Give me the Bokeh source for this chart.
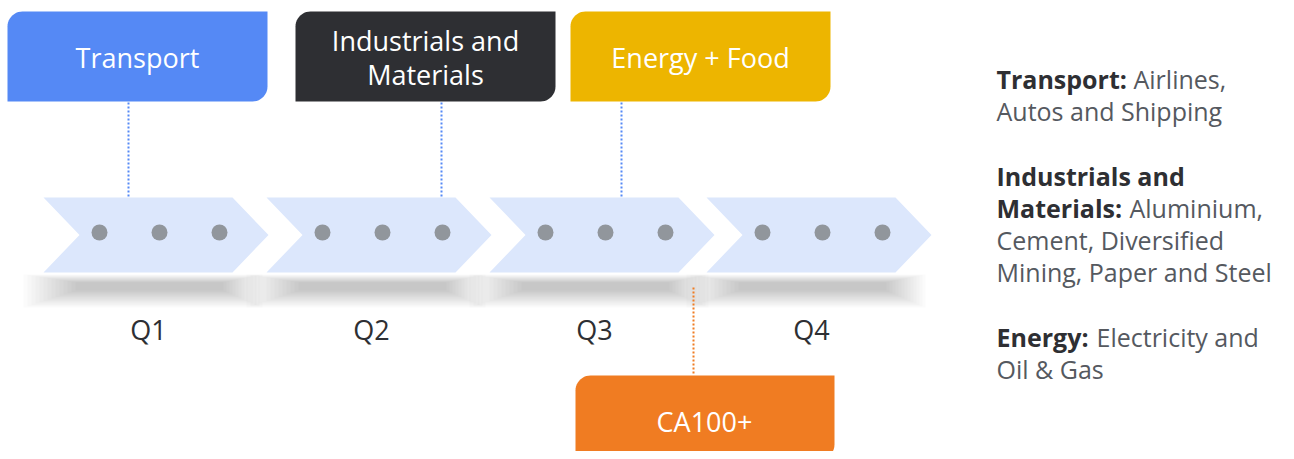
import numpy as np
from bokeh.plotting import figure
from bokeh.models import Range1d
from bokeh.core.properties import value
from bokeh.embed import file_html
from bokeh.resources import INLINE

# ---- data ----
quarters = ["Q1", "Q2", "Q3", "Q4"]
dots_per_quarter = 3
sector_labels = ["Transport", "Industrials and\nMaterials", "Energy + Food"]
sector_colors = ["#5589F5", "#2E2F33", "#EDB500"]
sector_link_x = [128, 441, 621]          # where each sector's dotted link meets the timeline
milestone_label = "CA100+"
milestone_color = "#F07C22"

legend_lines = [
    ("Transport:", "Airlines,"),
    ("", "Autos and Shipping"),
    None,
    ("Industrials and", ""),
    ("Materials:", "Aluminium,"),
    ("", "Cement, Diversified"),
    ("", "Mining, Paper and Steel"),
    None,
    ("Energy:", "Electricity and"),
    ("", "Oil & Gas"),
]

# ---- layout (image pixel space, y measured downward) ----
FONT = value("Open Sans")
W, H = 1286, 451
p = figure(width=W, height=H, x_range=Range1d(0, W), y_range=Range1d(0, H),
           output_backend="svg", toolbar_location=None, min_border=0)
p.axis.visible = False
p.grid.visible = False
p.outline_line_color = None
p.background_fill_color = "white"
p.border_fill_color = "white"


def fy(v):
    return H - v


def rounded_box(l, r, t, b, rad=15, n=12):
    a1 = np.linspace(np.pi, 1.5 * np.pi, n)
    a2 = np.linspace(0, 0.5 * np.pi, n)
    xs = [l + rad + rad * np.cos(a) for a in a1] + [r] + [r - rad + rad * np.cos(a) for a in a2] + [l]
    ys = [t + rad + rad * np.sin(a) for a in a1] + [t] + [b - rad + rad * np.sin(a) for a in a2] + [b]
    return list(xs), [fy(v) for v in ys]


chev_left = [43, 266, 489, 706]
chev_len, notch, tip = 189, 36, 36
ctop, cbot = 197, 272
cmid = (ctop + cbot) / 2

# soft shadows (stacked translucent layers)
n_layers = 14
for L in chev_left:
    x0, x1 = L - 20, L + chev_len + tip - 6
    for i in range(n_layers):
        p.quad(left=[x0 + 4 * i], right=[x1 - 3 * i], top=[fy(274 + 0.6 * i)], bottom=[fy(307 - 1.3 * i)],
               fill_color="black", fill_alpha=0.015, line_color=None)

xs, ys = [], []
for L in chev_left:
    R = L + chev_len
    xs.append([L, R, R + tip, R, L, L + notch])
    ys.append([fy(ctop), fy(ctop), fy(cmid), fy(cbot), fy(cbot), fy(cmid)])
p.patches(xs, ys, fill_color="#DCE7FC", line_color=None)

dx_, dy_ = [], []
for L in chev_left:
    for j in range(dots_per_quarter):
        dx_.append(L + 56 + 60 * j)
        dy_.append(fy(232))
p.scatter(dx_, dy_, size=16, fill_color="#91969C", line_color=None)

p.text([L + 105 for L in chev_left], [fy(329)] * 4, text=quarters, text_font=FONT,
       text_font_size="27px", text_color="#2E2F33", text_align="center", text_baseline="middle")

# sector boxes
box_left = [7, 295, 570]
bw, btop, bbot = 260, 11, 101
bx, by = [], []
for b in box_left:
    a, c = rounded_box(b, b + bw, btop, bbot)
    bx.append(a)
    by.append(c)
p.patches(bx, by, fill_color=sector_colors, line_color=None)
tx, ty, tt = [], [], []
for b, lab in zip(box_left, sector_labels):
    lines = lab.split("\n")
    y0 = 57 - 17 * (len(lines) - 1)
    for k, ln in enumerate(lines):
        tx.append(b + bw / 2)
        ty.append(fy(y0 + 34 * k))
        tt.append(ln)
p.text(tx, ty, text=tt, text_font=FONT, text_font_size="27px", text_color="white",
       text_align="center", text_baseline="middle")
for x in sector_link_x:
    p.line([x, x], [fy(102), fy(196)], line_color="#5589F5", line_width=2, line_dash="2 2")

# milestone
mx, my = rounded_box(575, 834, 375, 459)
p.patch(mx, my, fill_color=milestone_color, line_color=None)
p.text([704], [fy(421)], text=[milestone_label], text_font=FONT, text_font_size="27px",
       text_color="white", text_align="center", text_baseline="middle")
p.line([693, 693], [fy(287), fy(374)], line_color=milestone_color, line_width=2, line_dash="2 2")

# legend text
rest_x = {"Transport:": 1133, "Materials:": 1129, "Energy:": 1096}
y = 78
for item in legend_lines:
    if item is None:
        y += 33
        continue
    b, r = item
    if b:
        p.text([996], [fy(y)], text=[b], text_font=FONT, text_font_size="25px",
               text_font_style="bold", text_color="#2E2F33", text_baseline="middle")
    if r:
        p.text([rest_x.get(b, 996)], [fy(y)], text=[r], text_font=FONT, text_font_size="25px",
               text_color="#55595F", text_baseline="middle")
    y += 32

open("out.html", "w").write(file_html(p, INLINE))
